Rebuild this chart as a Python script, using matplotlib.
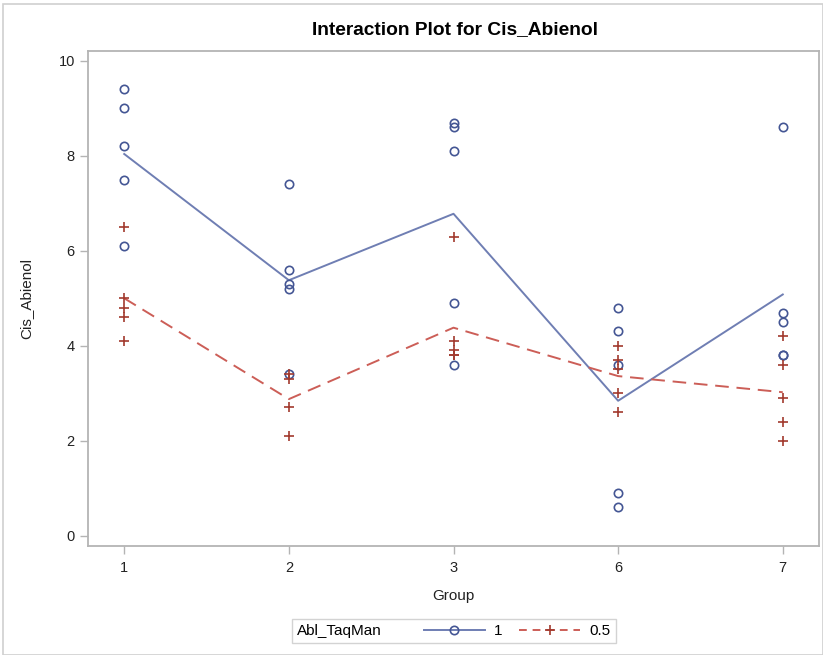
import numpy as np
import matplotlib
matplotlib.use("Agg")
import matplotlib.pyplot as plt
from matplotlib.lines import Line2D
from matplotlib.offsetbox import HPacker
from matplotlib.patches import Rectangle

plt.rcParams['font.family'] = ['Liberation Sans', 'DejaVu Sans']

groups = ["1", "2", "3", "6", "7"]
abl1_values = [
    [9.4, 9.0, 8.2, 7.5, 6.1],
    [7.4, 5.6, 5.3, 5.2, 3.4],
    [8.7, 8.6, 8.1, 4.9, 3.6],
    [4.8, 4.3, 3.6, 0.9, 0.6],
    [8.6, 4.7, 4.5, 3.8, 3.8],
]
abl05_values = [
    [6.5, 5.0, 4.8, 4.6, 4.1],
    [3.4, 3.3, 2.7, 2.1],
    [6.3, 4.1, 3.9, 3.8, 3.8],
    [4.0, 3.7, 3.5, 3.0, 2.6],
    [4.2, 3.6, 2.9, 2.4, 2.0],
]
y_ticks = [0, 2, 4, 6, 8, 10]

blue_mk = "#445694"
blue_ln = "#6F7EB3"
red_mk = "#A23A2E"
red_ln = "#CC5E57"

fig = plt.figure(figsize=(8.23, 6.55), dpi=100)
W, H = 823, 655
ax = fig.add_axes([88 / W, 1 - 546 / H, (819 - 88) / W, (546 - 51) / H])

xpos = np.arange(len(groups))
for i, vals in enumerate(abl1_values):
    ax.plot([xpos[i]] * len(vals), vals, linestyle="none", marker="o", ms=6,
            mfc="none", mec=blue_mk, mew=1.2, zorder=3)
for i, vals in enumerate(abl05_values):
    ax.plot([xpos[i]] * len(vals), vals, linestyle="none", marker="+", ms=7.5,
            mec=red_mk, mew=1.2, zorder=3)

m1 = [np.mean(v) for v in abl1_values]
m05 = [np.mean(v) for v in abl05_values]
ax.plot(xpos, m1, color=blue_ln, lw=1.4, zorder=2)
ax.plot(xpos, m05, color=red_ln, lw=1.4, ls=(0, (7, 4)), zorder=2)

ax.set_xlim(-0.22, 4.22)
ax.set_ylim(-0.22, 10.21)
ax.set_xticks(xpos)
ax.set_xticklabels(groups)
ax.set_yticks(y_ticks)
for s in ax.spines.values():
    s.set_color("#b4b4b4")
    s.set_linewidth(1.3)
ax.tick_params(colors="#b4b4b4", labelcolor="#222222", labelsize=10.5, length=6, width=1)
ax.tick_params(axis="x", pad=5)

ax.set_xlabel("Group", fontsize=11, color="#222222", labelpad=10)
ax.set_ylabel("Cis_Abienol", fontsize=11, color="#222222", labelpad=18)

fig.text(455 / W, 1 - 30 / H, "Interaction Plot for Cis_Abienol", ha="center", va="center",
         fontsize=13.8, fontweight="bold", family=["Liberation Sans Narrow", "Liberation Sans", "DejaVu Sans"])

handles = [
    Line2D([], [], color=blue_ln, lw=1.4, marker="o", ms=6, mfc="none", mec=blue_mk, mew=1.2),
    Line2D([], [], color=red_ln, lw=1.4, ls=(0, (4, 3)), marker="+", ms=7.5, mec=red_mk, mew=1.2),
]
leg = fig.legend(handles, ["1", "0.5"], title="Abl_TaqMan", ncol=2, loc="center",
                 bbox_to_anchor=(454 / W, 1 - 631 / H), frameon=True, fancybox=False,
                 edgecolor="#c8c8c8", fontsize=11, title_fontsize=11, handlelength=4.0,
                 columnspacing=1.1, handletextpad=0.6, borderpad=0.35)
leg.get_frame().set_linewidth(1.0)
leg._legend_box.__class__ = HPacker
leg._legend_box.align = "center"
leg._legend_box.sep = 30

fig.patches.append(Rectangle((3 / W, 0), 1 - 3 / W, 1 - 4 / H, transform=fig.transFigure,
                             fill=False, edgecolor="#d0d0d0", lw=1.2))

fig.savefig("out.png", dpi=100)
